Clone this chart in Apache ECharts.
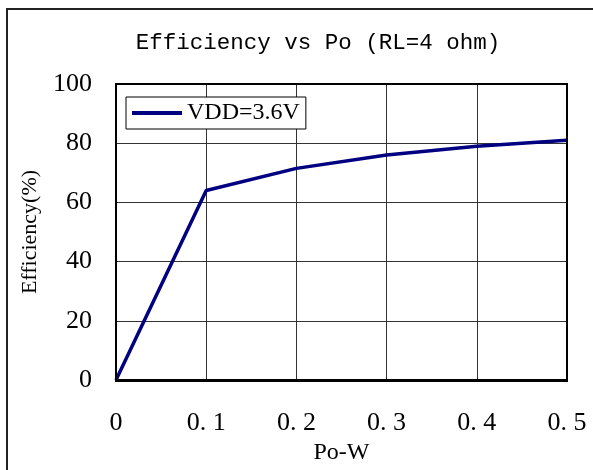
<!DOCTYPE html>
<html lang="en">
<head>
    <meta charset="UTF-8">
    <title>Efficiency vs Po</title>
    <style>
        html, body { margin: 0; padding: 0; background: #fff; }
        #chart { width: 593px; height: 470px; }
    </style>
</head>
<body>
    <div id="chart"></div>
<script type="text/javascript" src="https://cdn.jsdelivr.net/npm/echarts@6/dist/echarts.min.js"></script>
<script>
    // data
    var poW = [0, 0.1, 0.2, 0.3, 0.4, 0.5];
    var efficiency = [0, 64, 71.5, 76, 79, 81];
    var seriesName = 'VDD=3.6V';
    var titleText = 'Efficiency vs Po (RL=4 ohm)';

    var serif = 'Liberation Serif';
    var mono = 'Liberation Mono';

    var chart = echarts.init(document.getElementById('chart'));
    var points = [];
    for (var i = 0; i < poW.length; i++) {
        points.push([poW[i], efficiency[i]]);
    }

    var option = {
        backgroundColor: '#fff',
        animation: false,
        title: {
            text: titleText,
            left: 313,
            top: 27,
            textAlign: 'center',
            textStyle: {fontFamily: mono, fontSize: 22.5, fontWeight: 'normal', color: '#000'}
        },
        legend: {
            left: 126,
            top: 97,
            orient: 'vertical',
            backgroundColor: '#fff',
            borderColor: '#000',
            borderWidth: 1,
            borderRadius: 0,
            padding: [4, 6, 4, 6],
            icon: 'rect',
            itemWidth: 50,
            itemHeight: 4,
            itemGap: 0,
            textStyle: {fontFamily: serif, fontSize: 24, color: '#000'},
            data: [seriesName]
        },
        grid: {left: 116, right: 26, top: 84, bottom: 89, containLabel: false},
        xAxis: {
            type: 'value',
            min: 0, max: 0.5, interval: 0.1,
            name: 'Po-W',
            nameLocation: 'middle',
            nameGap: 61,
            nameTextStyle: {fontFamily: serif, fontSize: 24, color: '#000'},
            axisLine: {show: true, lineStyle: {color: '#000', width: 2}},
            axisTick: {show: false},
            axisLabel: {
                margin: 30,
                fontFamily: serif, fontSize: 26, color: '#000',
                formatter: function (v) { return v === 0 ? '0' : v.toFixed(1).replace('.', '. '); }
            },
            splitLine: {show: true, lineStyle: {color: '#333', width: 1}}
        },
        yAxis: {
            type: 'value',
            min: 0, max: 100, interval: 20,
            name: 'Efficiency(%)',
            nameLocation: 'middle',
            nameGap: 75,
            nameTextStyle: {fontFamily: serif, fontSize: 22, color: '#000'},
            axisLine: {show: true, lineStyle: {color: '#000', width: 2}},
            axisTick: {show: false},
            axisLabel: {margin: 24, fontFamily: serif, fontSize: 26, color: '#000'},
            splitLine: {show: true, lineStyle: {color: '#333', width: 1}}
        },
        series: [{
            name: seriesName,
            type: 'line',
            symbol: 'none',
            lineStyle: {color: '#000080', width: 3.5},
            itemStyle: {color: '#000080'},
            data: points
        }],
        graphic: [{
            // outer frame, only left and top edges fall inside the picture
            type: 'rect',
            shape: {x: 7, y: 9, width: 620, height: 500},
            style: {fill: 'none', stroke: '#222', lineWidth: 2},
            z: -1
        }, {
            // plot border
            type: 'rect',
            shape: {x: 116, y: 84, width: 451, height: 297},
            style: {fill: 'none', stroke: '#000', lineWidth: 2},
            z: 10,
            silent: true
        }]
    };
    chart.setOption(option);
</script>
</body>
</html>
